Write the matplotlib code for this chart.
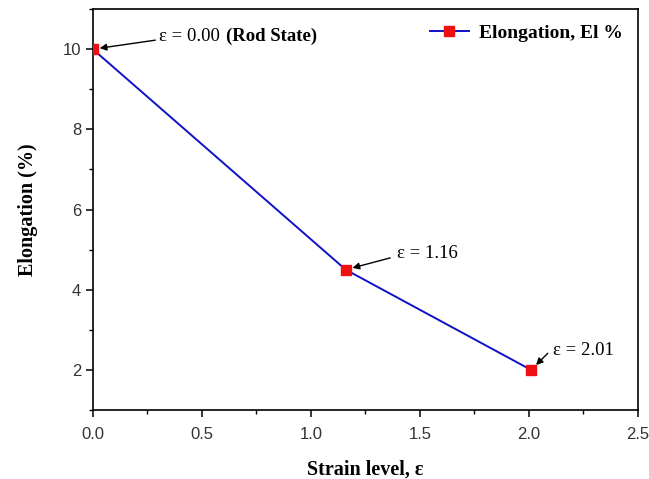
import matplotlib.pyplot as plt
from matplotlib.ticker import MultipleLocator

strain = [0.00, 1.16, 2.01]
elongation = [10.0, 4.5, 2.0]
point_labels = ["ε = 0.00", "ε = 1.16", "ε = 2.01"]

serif = ["Liberation Serif", "DejaVu Serif"]

fig = plt.figure(figsize=(6.49, 4.79), dpi=100)
ax = fig.add_axes([0.143, 0.144, 0.84, 0.837])

ax.plot(strain, elongation, color="#1010c8", linewidth=1.4,
        marker="s", markersize=6.5, markerfacecolor="#ee1111",
        markeredgecolor="#ee1111", label="Elongation, El %", zorder=3)

ax.set_xlim(0, 2.5)
ax.set_ylim(1, 11)
ax.xaxis.set_major_locator(MultipleLocator(0.5))
ax.xaxis.set_minor_locator(MultipleLocator(0.25))
ax.yaxis.set_major_locator(MultipleLocator(2))
ax.yaxis.set_minor_locator(MultipleLocator(1))
ax.set_yticks([2, 4, 6, 8, 10])
ax.tick_params(which="major", direction="out", length=5, width=1.1,
               labelsize=12, labelcolor="#333333")
ax.tick_params(which="minor", direction="out", length=3, width=1.0)
ax.tick_params(axis="x", pad=7)
for lbl in ax.get_xticklabels() + ax.get_yticklabels():
    lbl.set_family(["Liberation Sans", "DejaVu Sans"])
for s in ax.spines.values():
    s.set_linewidth(1.2)

ax.set_xlabel("Strain level, ε", family=serif, fontweight="bold",
              fontsize=14.5, labelpad=13)
ax.set_ylabel("Elongation (%)", family=serif, fontweight="bold",
              fontsize=14.5, labelpad=18)

arrow = dict(arrowstyle="-|>", color="black", lw=1.0, mutation_scale=10,
             shrinkA=0, shrinkB=5)
# text offset and arrow tail offset (points) for each label
text_off = [(48, 9), (37, 12), (16, 14)]
tail_off = [(45, 6.5), (32, 8.5), (12, 12)]
for x, y, lab, off, tail in zip(strain, elongation, point_labels, text_off, tail_off):
    t = ax.annotate(lab, xy=(x, y), xytext=off, textcoords="offset points",
                    ha="left", va="center", family=serif, fontsize=13.5)
    ax.annotate("", xy=(x, y), xytext=tail,
                textcoords="offset points", arrowprops=arrow)
    if x == 0:
        ax.annotate("(Rod State)", xy=(1, 0.5), xycoords=t,
                    xytext=(4, 0), textcoords="offset points",
                    ha="left", va="center", family=serif, fontsize=13.5,
                    fontweight="bold")

leg = ax.legend(loc="upper right", frameon=False, handlelength=2.0,
                handletextpad=0.5, borderaxespad=0.4,
                prop={"family": serif, "weight": "bold", "size": 14})

fig.savefig("out.png", dpi=100)
